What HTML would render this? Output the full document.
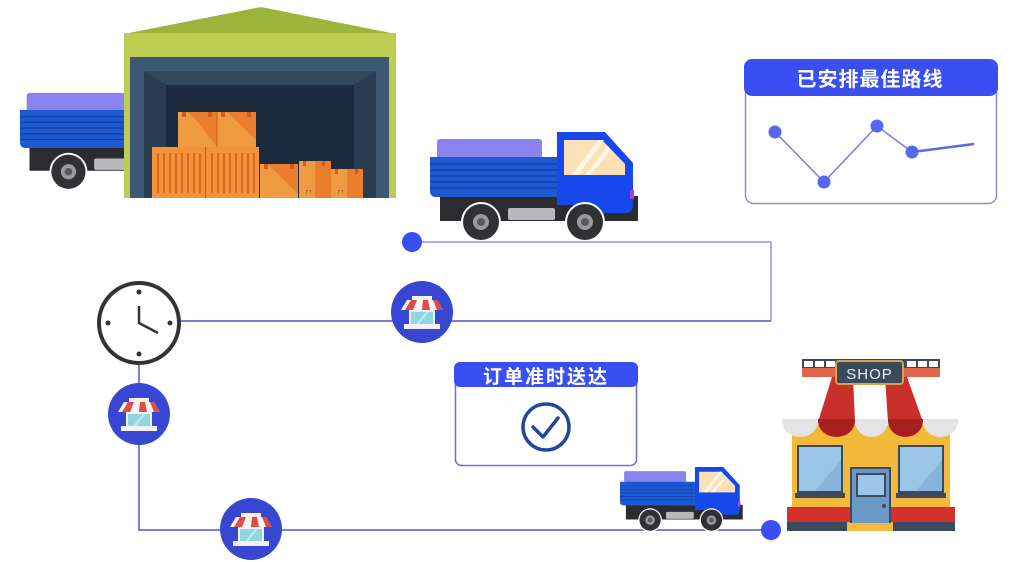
<!DOCTYPE html>
<html><head><meta charset="utf-8"><style>
html,body{margin:0;padding:0;background:#fff;}
svg{display:block;}
.t{font-family:"Liberation Sans","Noto Sans CJK SC",sans-serif;font-weight:bold;fill:#fff;}
</style></head><body>
<svg width="1014" height="562" viewBox="0 0 1014 562" xmlns="http://www.w3.org/2000/svg">
<defs>
  <g id="truck">
    <rect x="437" y="139" width="105" height="20" rx="3" fill="#8b84ee"/>
    <path d="M440,196 H638 V221 H440 Z" fill="#2a2c30"/>
    <path d="M430,157 H557 V197 H436 Q430,197 430,191 Z" fill="#1d5ad2"/>
    <g stroke="#0f3fa8" stroke-width="1.2">
      <line x1="430" y1="164" x2="557" y2="164"/>
      <line x1="430" y1="170" x2="557" y2="170"/>
      <line x1="430" y1="176" x2="557" y2="176"/>
      <line x1="430" y1="182" x2="557" y2="182"/>
      <line x1="430" y1="188" x2="557" y2="188"/>
    </g>
    <path d="M557,132 H605 L633,163 V204 Q633,213 625,213 H600 Q590,205 585,205 H557 Z" fill="#1748ec"/>
    <path d="M564,140 H602 L625,164 V175 H564 Z" fill="#fbe1b5"/>
    <path d="M572,175 L598,140 H604 L578,175 Z" fill="#fff6e6"/>
    <path d="M585,175 L608,146 L611,150 L590,175 Z" fill="#fff6e6"/>
    <rect x="630" y="190" width="4" height="9" fill="#b03ae0"/>
    <rect x="508" y="208" width="47" height="12" rx="2" fill="#b9b9bb"/>
    <circle cx="481" cy="222" r="20" fill="#fff"/>
    <circle cx="481" cy="222" r="18" fill="#2f3134"/>
    <circle cx="481" cy="222" r="8" fill="#9b9b9b"/>
    <circle cx="481" cy="222" r="4" fill="#5a5a5a"/>
    <circle cx="585" cy="222" r="20" fill="#fff"/>
    <circle cx="585" cy="222" r="18" fill="#2f3134"/>
    <circle cx="585" cy="222" r="8" fill="#9b9b9b"/>
    <circle cx="585" cy="222" r="4" fill="#5a5a5a"/>
  </g>
  <g id="store">
    <circle cx="0" cy="0" r="31" fill="#3747d2"/>
    <rect x="-10" y="-16" width="20" height="4" fill="#f4f4f4"/>
    <path d="M-15,-12 H15 L21,-2 H-21 Z" fill="#f4f4f4"/>
    <path d="M-11,-12 H-5 L-9,-2 H-17 Z" fill="#e04c45"/>
    <path d="M1,-12 H6 L8,-2 H0 Z" fill="#e04c45"/>
    <path d="M11,-12 H15 L21,-2 H15 Z" fill="#e04c45"/>
    <rect x="-13" y="-2" width="26" height="15" fill="#ecf4ff"/>
    <rect x="-11" y="0" width="22" height="12" fill="#8fd6de"/>
    <path d="M-6,12 L4,0 H7 L-3,12 Z" fill="#b8eaee"/>
    <rect x="-18" y="12" width="36" height="5" fill="#f2f2f2"/>
  </g>
</defs>

<!-- truck behind warehouse -->
<g transform="translate(20,110) scale(0.95) translate(-430,-157)">
  <use href="#truck"/>
</g>

<!-- warehouse -->
<polygon points="124,34 261,7 396,34" fill="#9cb43a"/>
<rect x="124" y="33" width="272" height="165" fill="#bccd52"/>
<rect x="130" y="57" width="259" height="141" fill="#3e5874"/>
<rect x="144" y="71" width="232" height="127" fill="#2a3c52"/>
<rect x="166" y="85" width="188" height="113" fill="#1c2a40"/>
<polygon points="144,71 376,71 354,85 166,85" fill="#33475f"/>
<!-- boxes -->
<rect x="178" y="112" width="39" height="35" fill="#f09a42"/>
<polygon points="190,112 217,112 217,147 217,147" fill="#e97f2c"/>
<polygon points="188,112 217,140 217,147 217,112" fill="#e97f2c"/>
<rect x="217" y="112" width="39" height="35" fill="#f09a42"/>
<polygon points="227,112 256,140 256,112" fill="#e97f2c"/>
<rect x="182" y="112" width="4" height="5" fill="#d65a20"/><rect x="208" y="112" width="4" height="5" fill="#d65a20"/>
<rect x="221" y="112" width="4" height="5" fill="#d65a20"/><rect x="247" y="112" width="4" height="5" fill="#d65a20"/>
<line x1="217" y1="112" x2="217" y2="147" stroke="#c9601f" stroke-width="1"/>
<rect x="152" y="147" width="107" height="51" fill="#f3923a"/>
<line x1="205.5" y1="147" x2="205.5" y2="198" stroke="#c9601f" stroke-width="1.2"/>
<g stroke="#d9691f" stroke-width="2">
  <line x1="158" y1="153" x2="158" y2="193"/><line x1="164" y1="153" x2="164" y2="193"/><line x1="170" y1="153" x2="170" y2="193"/><line x1="176" y1="153" x2="176" y2="193"/><line x1="182" y1="153" x2="182" y2="193"/><line x1="188" y1="153" x2="188" y2="193"/><line x1="194" y1="153" x2="194" y2="193"/><line x1="200" y1="153" x2="200" y2="193"/>
  <line x1="212" y1="153" x2="212" y2="193"/><line x1="218" y1="153" x2="218" y2="193"/><line x1="224" y1="153" x2="224" y2="193"/><line x1="230" y1="153" x2="230" y2="193"/><line x1="236" y1="153" x2="236" y2="193"/><line x1="242" y1="153" x2="242" y2="193"/><line x1="248" y1="153" x2="248" y2="193"/><line x1="254" y1="153" x2="254" y2="193"/>
</g>
<rect x="260" y="164" width="38" height="34" fill="#f09a42"/>
<polygon points="268,164 298,194 298,164" fill="#e97f2c"/>
<rect x="264" y="164" width="4" height="5" fill="#d65a20"/><rect x="290" y="164" width="4" height="5" fill="#d65a20"/>
<rect x="299" y="161" width="32" height="37" fill="#f09a42"/>
<rect x="315" y="161" width="16" height="37" fill="#e97f2c"/>
<rect x="303" y="161" width="3" height="5" fill="#d65a20"/><rect x="322" y="161" width="3" height="5" fill="#d65a20"/>
<rect x="331" y="169" width="32" height="29" fill="#f09a42"/>
<rect x="347" y="169" width="16" height="29" fill="#e97f2c"/>
<rect x="335" y="169" width="3" height="5" fill="#d65a20"/><rect x="355" y="169" width="3" height="5" fill="#d65a20"/>
<text x="305" y="194" font-size="7" fill="#5a3a20" font-family="Liberation Sans,sans-serif">↑↑</text>
<text x="337" y="194" font-size="7" fill="#5a3a20" font-family="Liberation Sans,sans-serif">↑↑</text>

<!-- main truck -->
<use href="#truck"/>

<!-- connectors -->
<polyline points="412,242 771,242 771,321" fill="none" stroke="#9294da" stroke-width="1.5"/>
<polyline points="771,321 181,321" fill="none" stroke="#4a58c4" stroke-width="1.5"/>
<polyline points="139,365 139,530 771,530" fill="none" stroke="#4a58c4" stroke-width="1.5"/>
<circle cx="412" cy="242" r="10" fill="#3a4ef2"/>
<circle cx="771" cy="530" r="10" fill="#3a4ef2"/>

<!-- clock -->
<circle cx="139" cy="323" r="40" fill="#fff" stroke="#333" stroke-width="4"/>
<circle cx="139" cy="292" r="2.5" fill="#333"/>
<circle cx="139" cy="354" r="2.5" fill="#333"/>
<circle cx="108" cy="323" r="2.5" fill="#333"/>
<circle cx="170" cy="323" r="2.5" fill="#333"/>
<polyline points="139,306 139,323 158,333" fill="none" stroke="#333" stroke-width="2.5"/>

<!-- store circles -->
<use href="#store" transform="translate(422,312)"/>
<use href="#store" transform="translate(139,414)"/>
<use href="#store" transform="translate(251,529)"/>

<!-- route box -->
<rect x="745.5" y="72" width="251" height="131.5" rx="8" fill="#fff" stroke="#8b8dd6" stroke-width="1.5"/>
<rect x="744" y="59" width="254" height="37" rx="8" fill="#3a4ff2"/>
<text class="t" x="870" y="86" font-size="20" text-anchor="middle" letter-spacing="1">已安排最佳路线</text>
<polyline points="775,132 824,182 877,126 912,152" fill="none" stroke="#7a7fd6" stroke-width="1.5"/>
<line x1="912" y1="152" x2="974" y2="144" stroke="#5868ee" stroke-width="2.5"/>
<circle cx="775" cy="132" r="6.5" fill="#5868ee"/>
<circle cx="824" cy="182" r="6.5" fill="#5868ee"/>
<circle cx="877" cy="126" r="6.5" fill="#5868ee"/>
<circle cx="912" cy="152" r="6.5" fill="#5868ee"/>

<!-- order box -->
<rect x="455.5" y="372" width="181" height="93.5" rx="6" fill="#fff" stroke="#6c6fc8" stroke-width="1.5"/>
<rect x="454" y="362" width="184" height="25" rx="6" fill="#3a4ff2"/>
<text class="t" x="546" y="383" font-size="19" text-anchor="middle" letter-spacing="2">订单准时送达</text>
<circle cx="546" cy="427" r="23" fill="none" stroke="#23479c" stroke-width="3.5"/>
<polyline points="533,427 543,437 558,418" fill="none" stroke="#23479c" stroke-width="3.5" stroke-linecap="round" stroke-linejoin="round"/>

<!-- small truck -->
<g transform="translate(620,467) scale(0.59) translate(-430,-132)">
  <use href="#truck"/>
</g>

<!-- shop -->
<rect x="792" y="425" width="158" height="82" fill="#f2b93b"/>
<rect x="787" y="507" width="168" height="16" fill="#d3312e"/>
<rect x="787" y="522" width="168" height="9" fill="#3b4a5e"/>
<rect x="847" y="522" width="46" height="9" fill="#f2b93b"/>
<!-- top rail -->
<rect x="802" y="359" width="138" height="10" fill="#3b4a5e"/>
<g fill="#fff">
  <rect x="804" y="361" width="9" height="6"/><rect x="815" y="361" width="9" height="6"/><rect x="826" y="361" width="9" height="6"/>
  <rect x="907" y="361" width="9" height="6"/><rect x="918" y="361" width="9" height="6"/><rect x="929" y="361" width="9" height="6"/>
</g>
<rect x="802" y="368" width="138" height="9" fill="#e0654a"/>
<!-- red pillars -->
<path d="M832,377 H853 L855,422 H818 Z" fill="#c9302c"/>
<path d="M885,377 H907 L923,422 H888 Z" fill="#c9302c"/>
<!-- scallops -->
<path d="M782,419 H818 V421 A18,16 0 0 1 782,421 Z" fill="#e4e4e4"/>
<path d="M818,419 H855 V421 A18.5,16 0 0 1 818,421 Z" fill="#a81f1f"/>
<path d="M855,419 H888 V421 A16.5,16 0 0 1 855,421 Z" fill="#e4e4e4"/>
<path d="M888,419 H923 V421 A17.5,16 0 0 1 888,421 Z" fill="#a81f1f"/>
<path d="M923,419 H958 V421 A17.5,16 0 0 1 923,421 Z" fill="#e4e4e4"/>
<!-- sign -->
<rect x="836" y="361" width="67" height="23" rx="3" fill="#3c4a5e" stroke="#d6a24a" stroke-width="2"/>
<text x="869.5" y="379" font-size="15" text-anchor="middle" fill="#e8eef4" font-family="Liberation Sans,sans-serif" letter-spacing="1">SHOP</text>
<!-- windows -->
<rect x="797" y="445" width="46" height="48" fill="#3b4a5e"/>
<rect x="799" y="447" width="42" height="44" fill="#9cc6e8"/>
<path d="M815,491 L841,460 V491 Z" fill="#86b4dc"/>
<rect x="795" y="493" width="50" height="5" fill="#3b4a5e"/>
<rect x="898" y="445" width="46" height="48" fill="#3b4a5e"/>
<rect x="900" y="447" width="42" height="44" fill="#9cc6e8"/>
<path d="M916,491 L942,460 V491 Z" fill="#86b4dc"/>
<rect x="896" y="493" width="50" height="5" fill="#3b4a5e"/>
<!-- door -->
<rect x="850" y="467" width="41" height="56" fill="#3b4a5e"/>
<rect x="852" y="469" width="37" height="54" fill="#6b98c6"/>
<rect x="856" y="473" width="30" height="24" fill="#3b4a5e"/>
<rect x="858" y="475" width="26" height="20" fill="#9cc6e8"/>
<circle cx="884" cy="506" r="2" fill="#3b4a5e"/>
</svg>
</body></html>
